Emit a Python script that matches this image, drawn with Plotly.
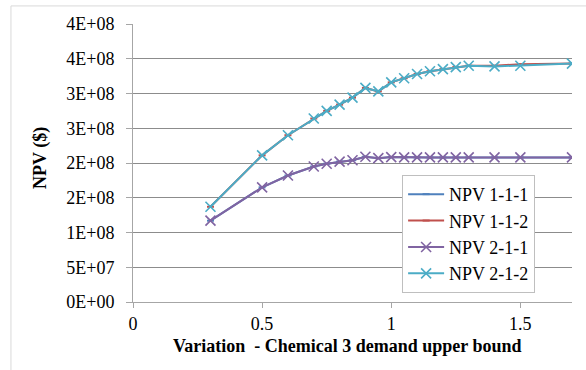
import plotly.graph_objects as go

# Demand upper-bound variation (x) and NPV results for each configuration
variation = [0.3, 0.5, 0.6, 0.7, 0.75, 0.8, 0.85, 0.9, 0.95, 1.0,
             1.05, 1.1, 1.15, 1.2, 1.25, 1.3, 1.4, 1.5, 1.7]

npv_111 = [1.17e8, 1.65e8, 1.82e8, 1.95e8, 1.99e8, 2.02e8, 2.04e8, 2.09e8, 2.07e8, 2.085e8,
           2.08e8, 2.08e8, 2.08e8, 2.08e8, 2.08e8, 2.08e8, 2.08e8, 2.08e8, 2.08e8]
npv_112 = [1.37e8, 2.11e8, 2.40e8, 2.64e8, 2.75e8, 2.84e8, 2.94e8, 3.08e8, 3.03e8, 3.16e8,
           3.22e8, 3.28e8, 3.32e8, 3.35e8, 3.38e8, 3.40e8, 3.40e8, 3.42e8, 3.43e8]
npv_211 = [1.17e8, 1.65e8, 1.82e8, 1.95e8, 1.99e8, 2.02e8, 2.04e8, 2.09e8, 2.07e8, 2.085e8,
           2.08e8, 2.08e8, 2.08e8, 2.08e8, 2.08e8, 2.08e8, 2.08e8, 2.08e8, 2.08e8]
npv_212 = [1.37e8, 2.11e8, 2.40e8, 2.64e8, 2.75e8, 2.84e8, 2.94e8, 3.08e8, 3.03e8, 3.16e8,
           3.22e8, 3.28e8, 3.32e8, 3.35e8, 3.38e8, 3.40e8, 3.39e8, 3.40e8, 3.43e8]

series_names = ["NPV 1-1-1", "NPV 1-1-2", "NPV 2-1-1", "NPV 2-1-2"]

y_tickvals = [0, 5e7, 1e8, 1.5e8, 2e8, 2.5e8, 3e8, 3.5e8, 4e8]
y_ticktext = ["0E+00", "5E+07", "1E+08", "2E+08", "2E+08", "3E+08", "3E+08", "4E+08", "4E+08"]
x_tickvals = [0, 0.5, 1, 1.5]
x_ticktext = ["0", "0.5", "1", "1.5"]

FONT = "'Times New Roman', 'Liberation Serif', serif"
FS = 18

fig = go.Figure()

styles = [
    (npv_111, "#4F81BD", dict(symbol="line-ew", size=5, line=dict(width=2, color="#4F81BD"))),
    (npv_112, "#C0504D", dict(symbol="line-ew", size=5, line=dict(width=2, color="#C0504D"))),
    (npv_211, "#8064A2", dict(symbol="x-thin", size=10, line=dict(width=1.6, color="#8064A2"))),
    (npv_212, "#4BACC6", dict(symbol="x-thin", size=10, line=dict(width=1.6, color="#4BACC6"))),
]
for name, (vals, color, marker) in zip(series_names, styles):
    fig.add_trace(go.Scatter(
        x=variation, y=vals, name=name, mode="lines+markers",
        line=dict(color=color, width=2),
        marker=dict(color=color, **marker),
    ))

fig.update_layout(
    width=586, height=370,
    margin=dict(l=133, r=14, t=24, b=68),
    paper_bgcolor="white", plot_bgcolor="white",
    font=dict(family=FONT, size=FS, color="#000000"),
    showlegend=True,
    legend=dict(
        x=0.613, y=0.457, xanchor="left", yanchor="top",
        bgcolor="white", bordercolor="#BFBFBF", borderwidth=1,
        font=dict(family=FONT, size=FS, color="#000000"),
        tracegroupgap=0, itemwidth=36, entrywidth=118,
    ),
    xaxis=dict(
        range=[0, 1.7], tickmode="array", tickvals=x_tickvals, ticktext=x_ticktext,
        showgrid=False, zeroline=False,
        showline=True, linecolor="#A6A6A6", linewidth=1,
        ticks="outside", ticklen=5, tickcolor="#A6A6A6",
        tickfont=dict(family=FONT, size=FS),
    ),
    yaxis=dict(
        range=[0, 4e8], tickmode="array", tickvals=y_tickvals, ticktext=y_ticktext,
        showgrid=True, gridcolor="#8C8C8C", gridwidth=1, zeroline=False,
        showline=True, linecolor="#A6A6A6", linewidth=1,
        ticks="outside", ticklen=6, tickcolor="#A6A6A6",
        ticklabelstandoff=8,
        tickfont=dict(family=FONT, size=FS),
    ),
    annotations=[
        dict(text="<b>Variation  - Chemical 3 demand upper bound</b>",
             xref="paper", yref="paper", x=0.4886, y=-0.158,
             xanchor="center", yanchor="middle", showarrow=False,
             font=dict(family=FONT, size=FS)),
        dict(text="<b>NPV ($)</b>", textangle=-90,
             xref="paper", yref="paper", x=-0.2096, y=0.518,
             xanchor="center", yanchor="middle", showarrow=False,
             font=dict(family=FONT, size=FS)),
    ],
    shapes=[
        dict(type="rect", xref="paper", yref="paper",
             x0=-0.278, x1=1.05, y0=-0.3, y1=1.065,
             line=dict(color="#D9D9D9", width=1), fillcolor="rgba(0,0,0,0)", layer="below"),
    ],
)

fig.write_html("out.html")
